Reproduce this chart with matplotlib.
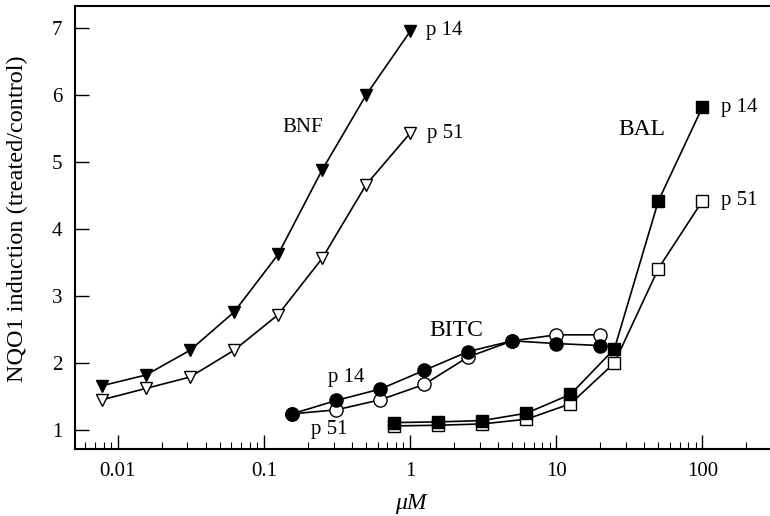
import matplotlib as mpl
mpl.use('Agg')
import matplotlib.pyplot as plt
from matplotlib.ticker import LogLocator, FixedLocator, NullFormatter

# concentrations (uM)
bnf_x = [0.0078, 0.0156, 0.03125, 0.0625, 0.125, 0.25, 0.5, 1.0]
bnf_p14 = [1.66, 1.82, 2.19, 2.76, 3.62, 4.88, 6.0, 6.95]
bnf_p51 = [1.45, 1.62, 1.79, 2.19, 2.72, 3.56, 4.66, 5.43]

bitc_x = [0.156, 0.3125, 0.625, 1.25, 2.5, 5.0, 10.0, 20.0]
bitc_p14 = [1.24, 1.44, 1.61, 1.89, 2.17, 2.33, 2.29, 2.26]
bitc_p51 = [1.24, 1.30, 1.45, 1.68, 2.09, 2.33, 2.42, 2.42]

bal_x = [0.78, 1.56, 3.125, 6.25, 12.5, 25.0, 50.0, 100.0]
bal_p14 = [1.11, 1.12, 1.14, 1.25, 1.53, 2.21, 4.42, 5.82]
bal_p51 = [1.06, 1.07, 1.09, 1.16, 1.39, 2.0, 3.41, 4.42]

x_ticks = [0.01, 0.1, 1, 10, 100]
x_ticklabels = ['0.01', '0.1', '1', '10', '100']
y_ticks = [1, 2, 3, 4, 5, 6, 7]

plt.rcParams['font.family'] = ['Liberation Serif', 'DejaVu Serif']

fig = plt.figure(figsize=(7.7, 5.16), dpi=100)
ax = fig.add_axes([0.0974, 0.1298, 0.9026, 0.8586])

lw = 1.2
# BNF
ax.plot(bnf_x, bnf_p51, '-', color='black', lw=lw, marker='v', ms=9,
        mfc='white', mec='black', mew=1.0)
ax.plot(bnf_x, bnf_p14, '-', color='black', lw=lw, marker='v', ms=9,
        mfc='black', mec='black')
# BITC
ax.plot(bitc_x, bitc_p51, '-', color='black', lw=lw, marker='o', ms=9.5,
        mfc='white', mec='black', mew=1.0)
ax.plot(bitc_x, bitc_p14, '-', color='black', lw=lw, marker='o', ms=9.5,
        mfc='black', mec='black')
# BAL
ax.plot(bal_x, bal_p51, '-', color='black', lw=lw, marker='s', ms=8.5,
        mfc='white', mec='black', mew=1.0)
ax.plot(bal_x, bal_p14, '-', color='black', lw=lw, marker='s', ms=8.5,
        mfc='black', mec='black')

fs = 15
lfs = 17
ax.text(0.183, 5.52, 'BNF', fontsize=fs, ha='center', va='center')
ax.text(1.29, 6.97, 'p 14', fontsize=fs, ha='left', va='center')
ax.text(1.30, 5.43, 'p 51', fontsize=fs, ha='left', va='center')
ax.text(2.06, 2.49, 'BITC', fontsize=lfs, ha='center', va='center')
ax.text(0.366, 1.78, 'p 14', fontsize=fs, ha='center', va='center')
ax.text(0.28, 1.0, 'p 51', fontsize=fs, ha='center', va='center')
ax.text(38.4, 5.48, 'BAL', fontsize=lfs, ha='center', va='center')
ax.text(133, 5.82, 'p 14', fontsize=fs, ha='left', va='center')
ax.text(133, 4.42, 'p 51', fontsize=fs, ha='left', va='center')

ax.set_xscale('log')
ax.set_xlim(0.0051, 290)
ax.set_ylim(0.715, 7.33)
ax.xaxis.set_major_locator(FixedLocator(x_ticks))
ax.set_xticklabels(x_ticklabels)
ax.xaxis.set_minor_locator(LogLocator(base=10, subs=range(2, 10), numticks=20))
ax.xaxis.set_minor_formatter(NullFormatter())
ax.set_yticks(y_ticks)

ax.spines['right'].set_visible(False)
for s in ['left', 'bottom', 'top']:
    ax.spines[s].set_linewidth(1.5)
ax.tick_params(which='major', direction='in', length=10, width=1.0,
               labelsize=fs, pad=9)
ax.tick_params(which='minor', direction='in', length=5, width=0.8)
ax.tick_params(axis='x', which='both', top=False)
ax.tick_params(axis='y', which='both', right=False)

ax.set_ylabel('NQO1 induction (treated/control)', fontsize=lfs + 0.5)
ax.yaxis.set_label_coords(-0.068, 0.521)
ax.set_xlabel('μM', fontsize=lfs, style='italic')
ax.xaxis.set_label_coords(0.483, -0.099)

plt.savefig('out.png', dpi=100)
